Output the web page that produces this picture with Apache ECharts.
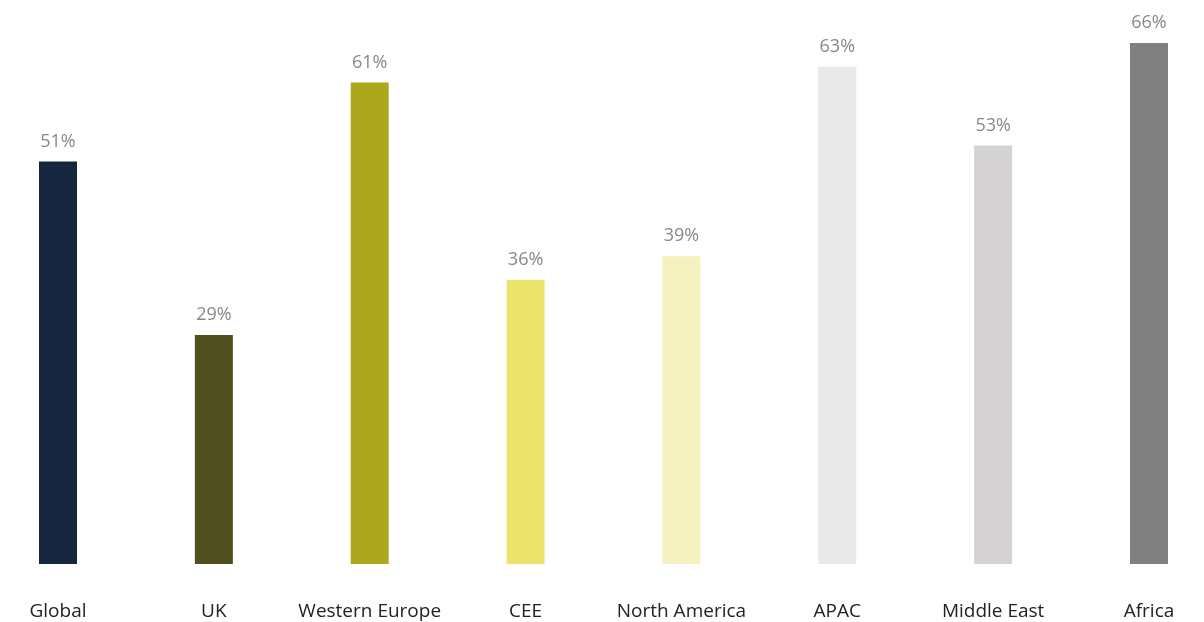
<!DOCTYPE html>
<html>
<head>
<meta charset="utf-8">
<script src="https://cdn.jsdelivr.net/npm/echarts@6/dist/echarts.min.js"></script>
<style>
  html, body { margin: 0; padding: 0; background: #fff; }
  #container { width: 1204px; height: 622px; }
</style>
</head>
<body>
<div id="container"></div>
<script>
var regions = ['Global', 'UK', 'Western Europe', 'CEE', 'North America', 'APAC', 'Middle East', 'Africa'];
var shares = [51, 29, 61, 36, 39, 63, 53, 66];
var barColors = ['#17263f', '#4f4f1f', '#aba81e', '#ebe46a', '#f5f2c0', '#e9e9e9', '#d4d2d3', '#808080'];

var chart = echarts.init(document.getElementById('container'));

var data = shares.map(function (v, i) {
    return { value: v, itemStyle: { color: barColors[i] } };
});

chart.setOption({
    animation: false,
    grid: { left: 58, right: 55, top: 43, bottom: 58 },
    xAxis: {
        type: 'category',
        data: regions,
        boundaryGap: false,
        axisLine: { show: false },
        axisTick: { show: false },
        splitLine: { show: false },
        axisLabel: {
            interval: 0,
            margin: 38,
            color: '#222',
            fontSize: 19,
            fontFamily: 'Open Sans'
        }
    },
    yAxis: {
        type: 'value',
        min: 0,
        max: 66,
        show: false,
        splitLine: { show: false }
    },
    series: [{
        type: 'bar',
        data: data,
        barWidth: 38,
        label: {
            show: true,
            position: 'top',
            distance: 11,
            formatter: '{c}%',
            color: '#888',
            fontSize: 18,
            fontFamily: 'Open Sans'
        }
    }]
});
</script>
</body>
</html>
